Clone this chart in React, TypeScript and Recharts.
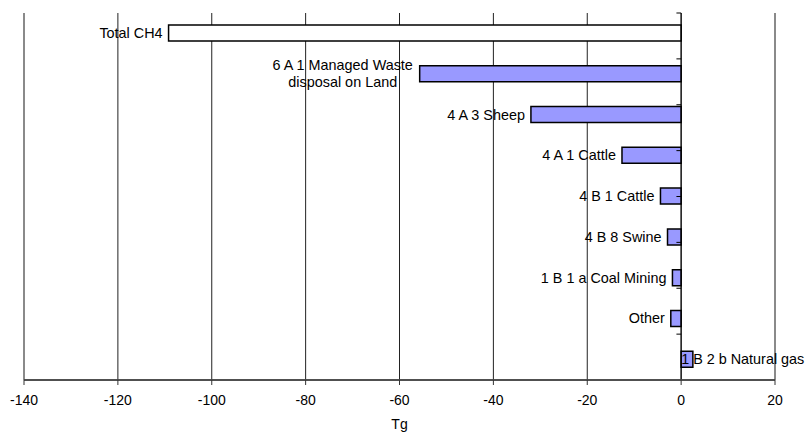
import React from 'react';
import { BarChart, Bar, XAxis, YAxis, CartesianGrid, ReferenceLine, LabelList, Cell } from 'recharts';

const categories = [
  'Total CH4',
  '6 A 1 Managed Waste\ndisposal on Land',
  '4 A 3 Sheep',
  '4 A 1 Cattle',
  '4 B 1 Cattle',
  '4 B 8 Swine',
  '1 B 1 a Coal Mining',
  'Other',
  '1 B 2 b Natural gas',
];
const values = [-109.2, -55.7, -32.0, -12.6, -4.4, -2.9, -1.85, -2.2, 2.5];
const xTicks = [-140, -120, -100, -80, -60, -40, -20, 0, 20];
const axisLabel = 'Tg';

const data = categories.map((name, i) => ({ name, value: values[i] }));
const boundaries = categories.slice(1).map((_, i) => i + 1);

const FONT = "'Liberation Sans', Arial, sans-serif";
const FS = 14;
const LFS = 14.4;

let ctx: CanvasRenderingContext2D | null = null;
function measure(t: string): number {
  if (!ctx) ctx = document.createElement('canvas').getContext('2d');
  if (!ctx) return t.length * 7;
  ctx.font = `${LFS}px 'Liberation Sans'`;
  return ctx.measureText(t).width;
}

const renderLabel = (props: any) => {
  const { x, y, width, height, index } = props;
  const v = values[index];
  const x0 = Number(x);
  const x1 = Number(x) + Number(width);
  const left = Math.min(x0, x1);
  const top = Math.min(Number(y), Number(y) + Number(height));
  const cy = top + Math.abs(Number(height)) / 2;
  const lines = categories[index].split('\n');
  const common = { fontSize: LFS, fontFamily: FONT, fill: '#000' };
  if (v >= 0) {
    return (
      <text x={left} y={cy + 5} textAnchor="start" {...common}>
        {lines[0]}
      </text>
    );
  }
  if (lines.length === 1) {
    return (
      <text x={left - 6} y={cy + 5} textAnchor="end" {...common}>
        {lines[0]}
      </text>
    );
  }
  const w = Math.max(...lines.map(measure));
  const cx = left - 6 - w / 2;
  const lh = 17;
  return (
    <g>
      {lines.map((l, k) => (
        <text key={k} x={cx} y={cy + 5 + (k - (lines.length - 1) / 2) * lh} textAnchor="middle" {...common}>
          {l}
        </text>
      ))}
    </g>
  );
};

export default function App() {
  return (
    <div style={{ position: 'absolute', left: 0, top: 0 }}>
      <BarChart
        width={805}
        height={432}
        data={data}
        layout="vertical"
        margin={{ top: 13, right: 30, left: 24, bottom: 0 }}
        style={{ fontFamily: FONT }}
      >
        <CartesianGrid horizontal={false} vertical stroke="#222" strokeWidth={1} />
        <XAxis
          type="number"
          dataKey="value"
          domain={[-140, 20]}
          ticks={xTicks}
          interval={0}
          allowDataOverflow
          tickSize={5}
          tickMargin={10}
          axisLine={{ stroke: '#333', strokeWidth: 1.5 }}
          tickLine={{ stroke: '#333' }}
          tick={{ fontSize: FS, fill: '#000', fontFamily: FONT }}
          height={52}
          label={{ value: axisLabel, position: 'insideBottom', offset: 3, fontSize: FS, fill: '#000', fontFamily: FONT }}
        />
        <YAxis yAxisId="cat" type="category" dataKey="name" hide width={0} />
        <YAxis yAxisId="grid" type="number" domain={[0, categories.length]} hide width={0} reversed allowDataOverflow />
        <Bar yAxisId="cat" dataKey="value" barSize={16} stroke="#000" strokeWidth={1.5} isAnimationActive={false}>
          {data.map((d, i) => (
            <Cell key={i} fill={i === 0 ? '#ffffff' : '#9999ff'} />
          ))}
          <LabelList dataKey="value" content={renderLabel} />
        </Bar>
        <ReferenceLine yAxisId="cat" x={0} stroke="#000" strokeWidth={1} />
        {boundaries.map((b) => (
          <ReferenceLine
            key={b}
            yAxisId="grid"
            segment={[{ x: -1, y: b }, { x: 0, y: b }]}
            stroke="#000"
            strokeWidth={1}
          />
        ))}
        <ReferenceLine yAxisId="cat" x={-140} stroke="#888" strokeWidth={1.5} />
        <ReferenceLine yAxisId="cat" x={20} stroke="#888" strokeWidth={1.5} />
        <ReferenceLine yAxisId="grid" y={0} stroke="#888" strokeWidth={1.5} />
      </BarChart>
    </div>
  );
}
